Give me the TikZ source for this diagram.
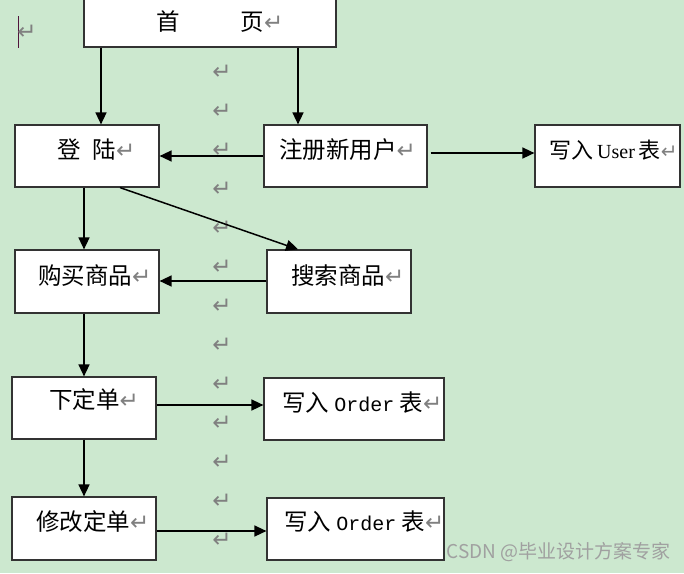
\documentclass[tikz,border=0pt]{standalone}
\usepackage{fontspec}
\setmainfont{Noto Sans CJK SC}
\newfontfamily\cjk{Noto Sans CJK SC}
\newfontfamily\symf{DejaVu Sans}
\newfontfamily\monof{Liberation Mono}
\newfontfamily\serf{Liberation Serif}
\usetikzlibrary{arrows.meta}
\definecolor{bggreen}{RGB}{204,232,207}
\definecolor{markgray}{RGB}{128,128,128}
\definecolor{cursor}{RGB}{80,20,60}
\definecolor{wmgray}{RGB}{160,160,160}
\newcommand\parmark{{\symf\fontsize{23}{24}\selectfont\textcolor{markgray}{↵}}}
\newcommand\ordertxt{{\monof\fontsize{20}{20}\selectfont Order}}
\tikzset{
  box/.style={draw=black!80, line width=1.2pt, fill=white, rectangle, inner sep=0pt},
  txt/.style={inner sep=0pt, anchor=west, font=\cjk\fontsize{23.5}{24}\selectfont},
  arr/.style={draw=black, line width=1.5pt, -{Triangle[length=12pt,width=11pt]}},
  pmark/.style={inner sep=0pt}
}
\begin{document}
\begin{tikzpicture}[x=1pt,y=-1pt]
\fill[bggreen] (0,0) rectangle (684,573);
\useasboundingbox (0,0) rectangle (684,573);

% paragraph marks column
\foreach \k in {0,...,12}{
  \node[pmark] (pm\k) at (222,{72+39*\k}) {\parmark};
}
% cursor at top-left
\draw[cursor, line width=0.8pt] (18,16) -- (18,48);
\node[pmark] (pmtop) at (27,32) {\parmark};

% boxes
\node[box, minimum width=252pt, minimum height=57pt] (home) at (210,18.5) {};
\node[box, minimum width=144pt, minimum height=62pt] (login) at (87,156) {};
\node[box, minimum width=163pt, minimum height=62pt] (reg) at (345.5,156) {};
\node[box, minimum width=145pt, minimum height=62pt] (user) at (607.5,156) {};
\node[box, minimum width=144pt, minimum height=63pt] (buy) at (87,281.5) {};
\node[box, minimum width=144pt, minimum height=63pt] (search) at (339,281.5) {};
\node[box, minimum width=144pt, minimum height=62pt] (order) at (84,408) {};
\node[box, minimum width=180pt, minimum height=62pt] (wo1) at (354,409) {};
\node[box, minimum width=144pt, minimum height=63pt] (modify) at (84,528.5) {};
\node[box, minimum width=177pt, minimum height=62pt] (wo2) at (355.5,529) {};

% texts
\node[txt] (thome) at (156,22) {首\hspace{61pt}页\parmark};
\node[txt] (tlogin) at (57,150) {登\hspace{12pt}陆\parmark};
\node[txt] (treg) at (279,150) {注册新用户\parmark};
\node[txt, font=\cjk\fontsize{22}{24}\selectfont] (tuser) at (549,150) {写入\hspace{4pt}{\serf\fontsize{20}{24}\selectfont User}\hspace{4pt}表{\symf\fontsize{20}{24}\selectfont\textcolor{markgray}{↵}}};
\node[txt] (tbuy) at (38,276) {购买商品\parmark};
\node[txt] (tsearch) at (291,276) {搜索商品\parmark};
\node[txt] (torder) at (49,400) {下定单\parmark};
\node[txt] (two1) at (282,403) {写入 \ordertxt{} 表\parmark};
\node[txt] (tmodify) at (36,522) {修改定单\parmark};
\node[txt] (two2) at (284,522) {写入 \ordertxt{} 表\parmark};

% watermark
\node[inner sep=0pt, anchor=east, text=wmgray, font=\cjk\fontsize{19}{20}\selectfont] (wm) at (671,552) {CSDN @毕业设计方案专家};

% connectors
\coordinate (h1) at ([xshift=-109pt]home.south);
\coordinate (h2) at ([xshift=88pt]home.south);
\draw[arr] (h1) -- (h1 |- login.north);
\draw[arr] (h2) -- (h2 |- reg.north);
\draw[arr] (reg.west) -- (login.east);
\coordinate (r1) at ([xshift=3pt,yshift=3pt]reg.east);
\draw[arr] (r1) -- (r1 -| user.west);
\coordinate (l1) at ([xshift=-3pt]login.south);
\draw[arr] (l1) -- (l1 |- buy.north);
\draw[arr] ([xshift=33pt]login.south) -- ([xshift=-41pt]search.north);
\coordinate (s1) at ([yshift=0.5pt]search.west);
\draw[arr] (s1) -- (s1 -| buy.east);
\coordinate (b1) at ([xshift=-3pt]buy.south);
\draw[arr] (b1) -- (b1 |- order.north);
\coordinate (o1) at ([yshift=3pt]order.east);
\draw[arr] (o1) -- (o1 -| wo1.west);
\draw[arr] (order.south) -- (modify.north);
\coordinate (m1) at ([yshift=-2.5pt]modify.east);
\draw[arr] (m1) -- (m1 -| wo2.west);
\end{tikzpicture}
\end{document}
